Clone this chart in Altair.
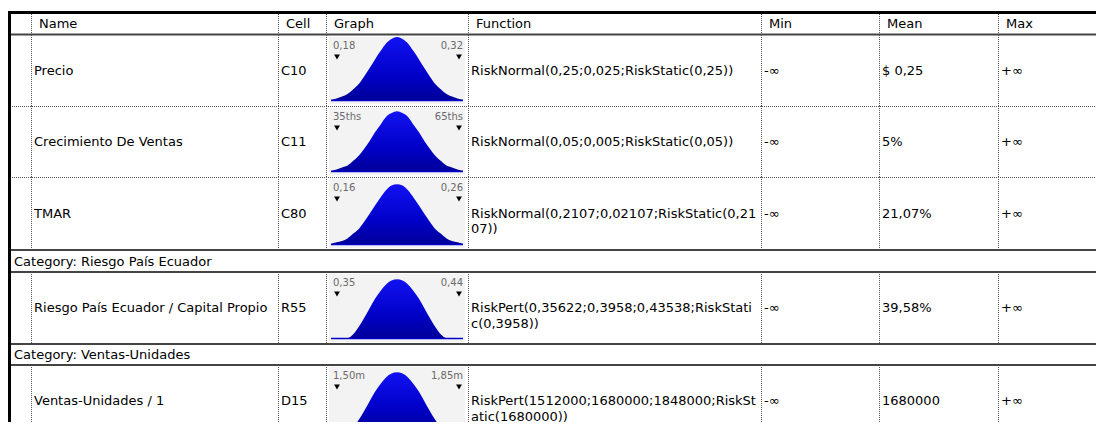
import altair as alt
import pandas as pd

# ---------------- data ----------------
headers = ["Name", "Cell", "Graph", "Function", "Min", "Mean", "Max"]
names = ["Precio", "Crecimiento De Ventas", "TMAR",
         "Riesgo País Ecuador / Capital Propio", "Ventas-Unidades / 1"]
cells = ["C10", "C11", "C80", "R55", "D15"]
functions = [
    "RiskNormal(0,25;0,025;RiskStatic(0,25))",
    "RiskNormal(0,05;0,005;RiskStatic(0,05))",
    "RiskNormal(0,2107;0,02107;RiskStatic(0,21\n07))",
    "RiskPert(0,35622;0,3958;0,43538;RiskStati\nc(0,3958))",
    "RiskPert(1512000;1680000;1848000;RiskSt\natic(1680000))",
]
mins = ["-∞", "-∞", "-∞", "-∞", "-∞"]
means = ["$ 0,25", "5%", "21,07%", "39,58%", "1680000"]
maxs = ["+∞", "+∞", "+∞", "+∞", "+∞"]
graph_low = ["0,18", "35ths", "0,16", "0,35", "1,50m"]
graph_high = ["0,32", "65ths", "0,26", "0,44", "1,85m"]
categories = ["Category: Riesgo País Ecuador", "Category: Ventas-Unidades"]

# relative curve heights across each Graph cell (estimated from the thumbnails)
curve_precio = [0.02, 0.04, 0.07, 0.11, 0.18, 0.26, 0.38, 0.51, 0.65, 0.78, 0.90, 0.97, 1.00,
                0.97, 0.90, 0.78, 0.65, 0.51, 0.38, 0.26, 0.18, 0.11, 0.07, 0.04, 0.02]
curve_crecimiento = [0.02, 0.04, 0.07, 0.10, 0.17, 0.25, 0.36, 0.48, 0.62, 0.74, 0.86, 0.92, 0.95,
                     0.92, 0.86, 0.74, 0.62, 0.48, 0.36, 0.25, 0.17, 0.10, 0.07, 0.04, 0.02]
curve_tmar = [0.02, 0.04, 0.06, 0.10, 0.17, 0.24, 0.35, 0.47, 0.60, 0.72, 0.83, 0.90, 0.92,
              0.90, 0.83, 0.72, 0.60, 0.47, 0.35, 0.24, 0.17, 0.10, 0.06, 0.04, 0.02]
curve_riesgo = [0.0, 0.0, 0.0, 0.01, 0.07, 0.18, 0.32, 0.47, 0.62, 0.74, 0.84, 0.90, 0.92,
                0.90, 0.84, 0.74, 0.62, 0.47, 0.32, 0.18, 0.07, 0.01, 0.0, 0.0, 0.0]
curve_ventas = [0.0, 0.0, 0.0, 0.01, 0.07, 0.18, 0.32, 0.47, 0.62, 0.74, 0.84, 0.90, 0.92,
                0.90, 0.84, 0.74, 0.62, 0.47, 0.32, 0.18, 0.07, 0.01, 0.0, 0.0, 0.0]
curves = [curve_precio, curve_crecimiento, curve_tmar, curve_riesgo, curve_ventas]

# ---------------- layout (pixel units of the page) ----------------
W, H = 1088, 414
OX, OY = 8, 8
RIGHT, BOTTOM = OX + W, OY + H
col_edges = [31, 278, 326, 468, 761, 879, 998]
TOP = 12
HEAD_BOTTOM = 35
plan = [("item", 0, 71), ("item", 1, 71), ("item", 2, 73), ("cat", 0, 22),
        ("item", 3, 72), ("cat", 1, 21), ("item", 4, 72)]
FONT = "DejaVu Sans"

item_rows, cat_rows, bounds = {}, {}, []
yy = HEAD_BOTTOM
for k, (kind, idx, h) in enumerate(plan):
    top, bot = yy, yy + h
    (item_rows if kind == "item" else cat_rows)[idx] = (top, bot)
    if k < len(plan) - 1:
        nxt = plan[k + 1][0]
        bounds.append((bot, "dot" if (kind == "item" and nxt == "item") else "solid"))
    yy = bot

# rules
dotted, solid, black = [], [], []
black.append(dict(x=OX, x2=RIGHT, y=TOP + 0.5, y2=TOP + 0.5))
black.append(dict(x=OX + 1.5, x2=OX + 1.5, y=TOP, y2=BOTTOM))
solid.append(dict(x=OX, x2=RIGHT, y=HEAD_BOTTOM - 0.5, y2=HEAD_BOTTOM - 0.5))
for yb, style in bounds:
    if style == "dot":
        dotted.append(dict(x=OX, x2=RIGHT, y=yb + 0.5, y2=yb + 0.5))
    else:
        solid.append(dict(x=OX, x2=RIGHT, y=yb, y2=yb))
spans = [(TOP, HEAD_BOTTOM)] + [item_rows[i] for i in sorted(item_rows)]
for (a, b) in spans:
    for e in col_edges:
        dotted.append(dict(x=e + 0.5, x2=e + 0.5, y=a, y2=min(b, BOTTOM)))

# texts
head_df = pd.DataFrame([dict(x=e + 8, y=24, t=t) for e, t in zip(col_edges, headers)])
body, low, high, tri, bg, area, base = [], [], [], [], [], [], []
text_cols = [(0, names), (1, cells), (3, functions), (4, mins), (5, means), (6, maxs)]
for i in range(len(names)):
    top, bot = item_rows[i]
    cy = (top + bot) / 2
    for ci, arr in text_cols:
        body.append(dict(x=col_edges[ci] + 3, y=cy, t=arr[i]))
    gl, gr = col_edges[2] + 3, col_edges[3] - 3
    bg.append(dict(x=gl, x2=gr, y=top + 2, y2=bot - 2))
    low.append(dict(x=gl + 4, y=top + 11, t=graph_low[i]))
    high.append(dict(x=gr - 2, y=top + 11, t=graph_high[i]))
    tri.append(dict(x=gl + 8, y=top + 22))
    tri.append(dict(x=gr - 6, y=top + 22))
    c = curves[i]
    x0, x1 = gl + 2, gr - 2
    yb = bot - 5
    avail = (bot - 5) - (top + 2)
    for j, v in enumerate(c):
        area.append(dict(row=i, x=x0 + (x1 - x0) * j / (len(c) - 1), y=yb - v * avail, y2=yb))
    base.append(dict(x=x0, x2=x1, y=yb - 0.5, y2=yb - 0.5))
cat_df = pd.DataFrame([dict(x=OX + 6, y=(cat_rows[i][0] + cat_rows[i][1]) / 2 + 0.5, t=categories[i])
                       for i in range(len(categories))])

xs = alt.Scale(domain=[OX, RIGHT], nice=False, zero=False)
ys = alt.Scale(domain=[OY, BOTTOM], reverse=True, nice=False, zero=False)


def X(f="x"):
    return alt.X(f + ":Q", scale=xs, axis=None)


def Y(f="y"):
    return alt.Y(f + ":Q", scale=ys, axis=None)


def rules(rows, color, width, dash=None):
    kw = dict(color=color, strokeWidth=width)
    if dash:
        kw["strokeDash"] = dash
    return alt.Chart(pd.DataFrame(rows)).mark_rule(**kw).encode(
        x=X(), x2="x2:Q", y=Y(), y2="y2:Q")


bg_layer = alt.Chart(pd.DataFrame(bg)).mark_rect(color="#f3f3f3").encode(
    x=X(), x2="x2:Q", y=Y(), y2="y2:Q")

grad = alt.Gradient(gradient="linear",
                    stops=[alt.GradientStop(color="#1212f2", offset=0),
                           alt.GradientStop(color="#0000c8", offset=0.6),
                           alt.GradientStop(color="#000098", offset=1)],
                    x1=0, x2=0, y1=0, y2=1)
area_layer = alt.Chart(pd.DataFrame(area)).mark_area(
    color=grad, interpolate="monotone", clip=True).encode(
    x=X(), y=Y(), y2="y2:Q", detail="row:N")
base_layer = rules(base, "#0000c8", 1.5)

head_layer = alt.Chart(head_df).mark_text(
    align="left", baseline="middle", font=FONT, fontSize=13, color="#000").encode(
    x=X(), y=Y(), text="t:N")
body_layer = alt.Chart(pd.DataFrame(body)).mark_text(
    align="left", baseline="middle", font=FONT, fontSize=13, color="#000",
    lineBreak="\n", lineHeight=15.5).encode(x=X(), y=Y(), text="t:N")
cat_layer = alt.Chart(cat_df).mark_text(
    align="left", baseline="middle", font=FONT, fontSize=13, color="#000").encode(
    x=X(), y=Y(), text="t:N")
low_layer = alt.Chart(pd.DataFrame(low)).mark_text(
    align="left", baseline="middle", font=FONT, fontSize=10, color="#6a6a6a").encode(
    x=X(), y=Y(), text="t:N")
high_layer = alt.Chart(pd.DataFrame(high)).mark_text(
    align="right", baseline="middle", font=FONT, fontSize=10, color="#6a6a6a").encode(
    x=X(), y=Y(), text="t:N")
tri_layer = alt.Chart(pd.DataFrame(tri)).mark_point(
    shape="triangle-down", filled=True, size=34, color="#000", opacity=1).encode(
    x=X(), y=Y())

chart = alt.layer(
    bg_layer, area_layer, base_layer,
    rules(dotted, "#555555", 1, [1, 1]),
    rules(solid, "#444444", 2),
    rules(black, "#000000", 3),
    head_layer, body_layer, cat_layer, low_layer, high_layer, tri_layer,
).properties(
    width=W, height=H, padding=0, autosize=alt.AutoSizeParams(type="none"),
    background="#ffffff",
).configure_view(stroke=None)

chart.save("out.html", embed_options={"renderer": "svg", "actions": False})
